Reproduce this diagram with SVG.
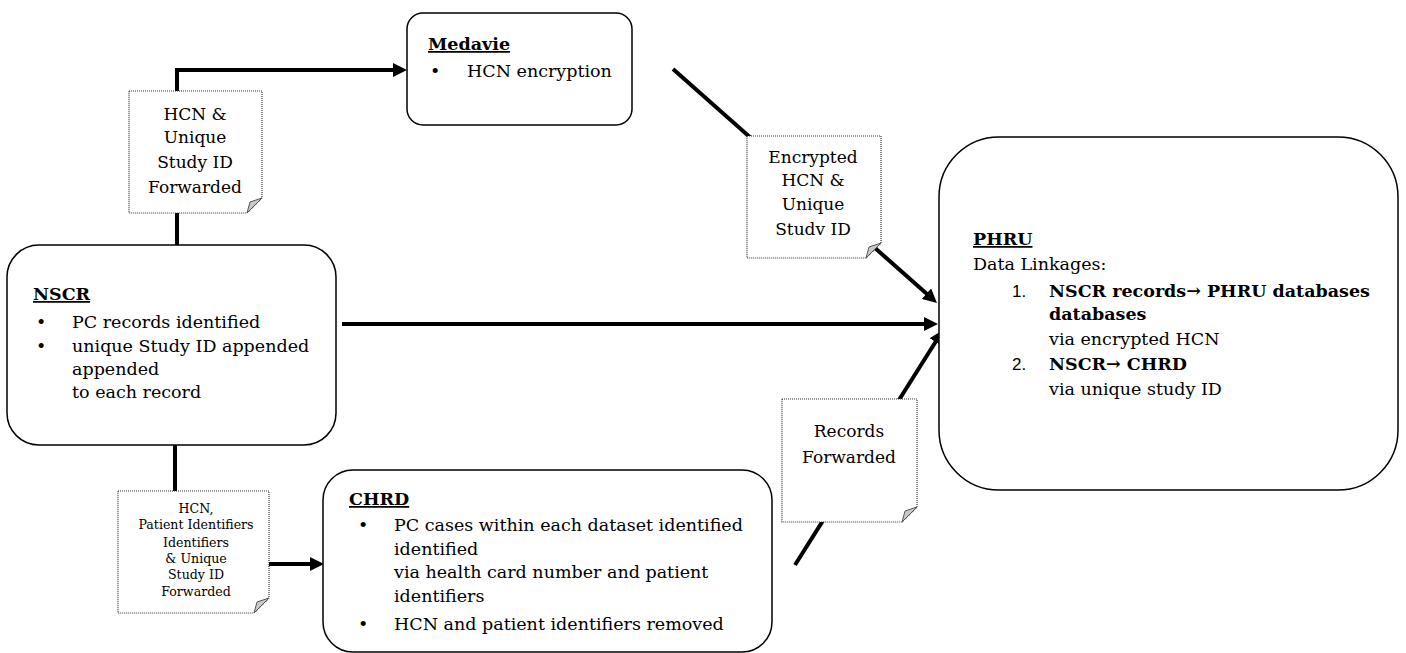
<svg xmlns="http://www.w3.org/2000/svg" width="1406" height="653" viewBox="0 0 1406 653">
<style>
.box{fill:#fff;stroke:#000;stroke-width:1.5}
.note{fill:#fff;stroke:#333;stroke-width:1.2;stroke-dasharray:1 1}
.fold{fill:#c8c8c8;stroke:#555;stroke-width:1}
.t{font-family:"DejaVu Serif","Liberation Serif",serif;font-size:17.5px;fill:#000}
.nt{font-family:"DejaVu Serif","Liberation Serif",serif;font-size:17px;fill:#000;text-anchor:middle}
.snt{font-family:"DejaVu Serif","Liberation Serif",serif;font-size:12.6px;fill:#000;text-anchor:middle}
.b{font-weight:bold}
.u{text-decoration:underline}
.num{font-family:"Liberation Sans",Arial,sans-serif;font-size:17px}
.c{fill:none;stroke:#000;stroke-width:4}
</style>
<defs>
<marker id="ah" markerUnits="userSpaceOnUse" markerWidth="16" markerHeight="14" viewBox="0 0 16 14" refX="4" refY="7" orient="auto">
<path d="M0,0 L14,7 L0,14 z" fill="#000"/>
</marker>
</defs>

<g id="connectors">
<path class="c" d="M177 247 V70 H397" marker-end="url(#ah)"/>
<path class="c" d="M673 69 L929.5 296.3" marker-end="url(#ah)"/>
<path class="c" d="M342 324 H928" marker-end="url(#ah)"/>
<path class="c" d="M175 445 V491"/>
<path class="c" d="M269 564 H314" marker-end="url(#ah)"/>
<path class="c" d="M795 565 L937.7 338.5" marker-end="url(#ah)"/>
</g>

<g id="medavie">
<rect class="box" x="407" y="13" width="225" height="112" rx="16"/>
<text class="t b u" x="428" y="50">Medavie</text>
<text class="t" x="430" y="77">•</text>
<text class="t" x="467" y="77">HCN encryption</text>
</g>

<g id="note-hcn">
<path class="note" d="M129 91 H262 V198 L247 213 H129 Z"/>
<path class="fold" d="M262 198 L247 213 L250 202 Z"/>
<text class="nt" x="195" y="120">HCN &amp;</text>
<text class="nt" x="195" y="143">Unique</text>
<text class="nt" x="195" y="168">Study  ID</text>
<text class="nt" x="195" y="193">Forwarded</text>
</g>

<g id="nscr">
<rect class="box" x="7" y="245" width="329" height="200" rx="32"/>
<text class="t b u" x="33" y="300">NSCR</text>
<text class="t" x="36" y="328">•</text>
<text class="t" x="72" y="328">PC records identified</text>
<text class="t" x="36" y="352">•</text>
<text class="t" x="72" y="352">unique Study ID appended</text>
<text class="t" x="72" y="375">appended</text>
<text class="t" x="72" y="398">to each record</text>
</g>

<g id="note-encrypted">
<path class="note" d="M747 136 H881 V243 L866 258 H747 Z"/>
<path class="fold" d="M881 243 L866 258 L869 247 Z"/>
<text class="nt" x="813" y="163">Encrypted</text>
<text class="nt" x="813" y="186">HCN &amp;</text>
<text class="nt" x="813" y="210">Unique</text>
<text class="nt" x="813" y="235">Studv  ID</text>
</g>

<g id="phru">
<rect class="box" x="939" y="137" width="459" height="353" rx="60"/>
<text class="t b u" x="973" y="245">PHRU</text>
<text class="t" x="973" y="270">Data Linkages:</text>
<text class="num" x="1012" y="297">1.</text>
<text class="t b" x="1049" y="297">NSCR records→ PHRU databases</text>
<text class="t b" x="1049" y="320">databases</text>
<text class="t" x="1049" y="345">via encrypted  HCN</text>
<text class="num" x="1012" y="370">2.</text>
<text class="t b" x="1049" y="370">NSCR→ CHRD</text>
<text class="t" x="1049" y="395">via unique  study ID</text>
</g>

<g id="note-records">
<path class="note" d="M782 399 H917 V507 L902 522 H782 Z"/>
<path class="fold" d="M917 507 L902 522 L905 511 Z"/>
<text class="nt" x="849" y="437">Records</text>
<text class="nt" x="849" y="463">Forwarded</text>
</g>

<g id="note-identifiers">
<path class="note" d="M118 491 H269 V598 L254 613 H118 Z"/>
<path class="fold" d="M269 598 L254 613 L257 602 Z"/>
<text class="snt" x="196" y="513">HCN,</text>
<text class="snt" x="196" y="529">Patient  Identifiers</text>
<text class="snt" x="196" y="547">Identifiers</text>
<text class="snt" x="196" y="563">&amp; Unique</text>
<text class="snt" x="196" y="579">Study  ID</text>
<text class="snt" x="196" y="596">Forwarded</text>
</g>

<g id="chrd">
<rect class="box" x="323" y="470" width="449" height="182" rx="30"/>
<text class="t b u" x="349" y="505">CHRD</text>
<text class="t" x="358" y="531">•</text>
<text class="t" x="394" y="531">PC cases within each dataset identified</text>
<text class="t" x="394" y="555">identified</text>
<text class="t" x="394" y="578">via health  card number and patient</text>
<text class="t" x="394" y="602">identifiers</text>
<text class="t" x="358" y="630">•</text>
<text class="t" x="394" y="630">HCN and patient identifiers removed</text>
</g>
</svg>
